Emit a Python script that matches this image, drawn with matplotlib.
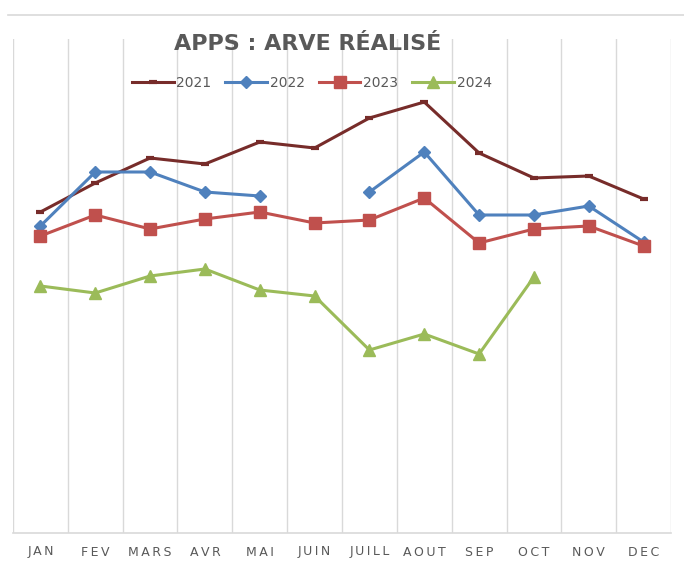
import numpy as np
from matplotlib import pyplot as plt
from matplotlib.lines import Line2D

months = ["JAN", "FEV", "MARS", "AVR", "MAI", "JUIN", "JUILL", "AOUT", "SEP", "OCT", "NOV", "DEC"]
nan = np.nan
y2021 = [321, 350, 375, 369, 391, 385, 415, 431, 380, 355, 357, 334]
y2022 = [307, 361, 361, 341, 337, nan, 341, 381, 318, 318, 327, 291]
y2023 = [297, 318, 304, 314, 321, 310, 313, 335, 290, 304, 307, 287]
y2024 = [247, 240, 257, 264, 243, 237, 183, 199, 179, 256, nan, nan]

grid_col = '#d9d9d9'
text_col = '#595959'

fig = plt.figure(figsize=(6.84, 5.66), dpi=100)
ax = fig.add_axes([13/684, 1-533/566, 658/684, 494/566])

x = np.arange(len(months))
ax.plot(x, y2021, color='#772c2a', lw=2.2, marker='_', ms=6, mew=3, label='2021')
ax.plot(x, y2022, color='#4f81bd', lw=2.2, marker='D', ms=6, label='2022')
ax.plot(x, y2023, color='#c0504d', lw=2.2, marker='s', ms=8, label='2023')
ax.plot(x, y2024, color='#9bbb59', lw=2.2, marker='^', ms=8, label='2024')

ax.set_xlim(-0.5, 11.5)
ax.set_ylim(0, 494)
ax.set_xticks(x)
ax.set_xticklabels(['\u2009'.join(m) for m in months], color=text_col, fontsize=9)
ax.set_xticks(np.arange(-0.5, 12, 1), minor=True)
ax.tick_params(axis='x', which='both', length=0, pad=9)
ax.set_yticks([])
ax.grid(True, which='minor', axis='x', color=grid_col, lw=1)
for s in ['top', 'left', 'right']:
    ax.spines[s].set_visible(False)
ax.spines['bottom'].set_color(grid_col)
ax.spines['bottom'].set_linewidth(1.2)

ax.text(0.447, 0.99, 'APPS : ARVE RÉALISÉ',
        transform=ax.transAxes, ha='center', va='center',
        fontsize=16, fontweight='bold', color=text_col)

leg = ax.legend(loc='center', bbox_to_anchor=(0.454, 0.911), ncol=4, frameon=False,
                fontsize=10, handlelength=3, columnspacing=1.0, handletextpad=0.2,
                labelcolor=text_col)

fig.add_artist(Line2D([8/684, 1], [1-15/566, 1-15/566], color=grid_col, lw=1.2))

plt.savefig('out.png', dpi=100)
